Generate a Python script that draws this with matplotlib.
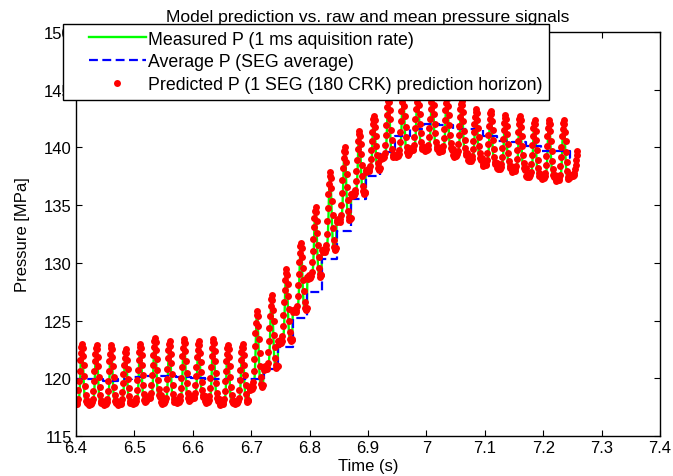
import numpy as np
import matplotlib.pyplot as plt
from matplotlib.lines import Line2D
from matplotlib.legend_handler import HandlerLine2D
from matplotlib.ticker import FuncFormatter, MultipleLocator

plt.rcParams['font.family'] = ['Liberation Sans', 'DejaVu Sans']

# one SEG = 180 CRK = 25 ms, pressure sampled every 1 ms
seg_first = 6.3963
seg_dt = 0.025
sample_dt = 0.001
samples_per_seg = 25
last_seg_samples = 13

# SEG average (blue steps)
seg_mean = [119.9, 119.9, 119.8, 119.9, 120.1, 120.2, 120.2, 120.1, 120.0, 119.9, 119.9, 119.9, 119.9,
            120.8, 122.7, 125.2, 127.5, 130.3, 132.8, 135.5, 137.5, 139.6, 141.0,
            141.6, 142.0, 141.9, 141.6, 141.6, 141.0, 140.6, 140.5, 140.1, 139.7, 139.7, 139.1]
# crest / trough of the pressure pulse in each SEG
seg_hi = [122.9, 122.8, 122.8, 122.4, 122.9, 123.4, 123.1, 123.3, 123.1, 123.3, 122.8, 122.9, 125.7,
          127.1, 129.3, 131.6, 134.7, 137.7, 139.9, 141.3, 142.6, 144.2,
          144.6, 144.6, 144.6, 144.5, 143.9, 143.2, 143.1, 142.7, 142.6, 142.3, 142.3, 142.3, 140.0]
seg_lo = [117.7, 117.7, 117.7, 117.7, 117.8, 118.2, 117.8, 117.9, 118.2, 117.9, 117.7, 117.8, 119.0,
          120.7, 123.0, 125.7, 128.6, 130.9, 133.5, 135.8, 137.9, 139.0,
          139.2, 139.7, 139.7, 139.6, 139.2, 138.8, 138.4, 138.1, 137.9, 137.4, 137.3, 137.1, 137.5]

# pulse shape inside one SEG (0 = trough, 1 = crest), measured and predicted
meas_shape = [0.05, 0.03, 0.02, 0.00, 0.02, 0.04, 0.03, 0.02, 0.05, 0.10, 0.22, 0.45, 0.75,
              0.95, 1.00, 0.88, 0.62, 0.38, 0.20, 0.10, 0.05, 0.03, 0.04, 0.06, 0.05]
pred_shape = [0.03, 0.00, 0.02, 0.05, 0.03, 0.01, 0.04, 0.10, 0.24, 0.40, 0.57, 0.74, 0.87,
              0.97, 1.02, 0.95, 0.82, 0.66, 0.48, 0.31, 0.16, 0.07, 0.03, 0.05, 0.06]

n_seg = len(seg_mean)
t_meas, p_meas, p_pred = [], [], []
for k in range(n_seg):
    n = samples_per_seg if k < n_seg - 1 else last_seg_samples
    t0 = seg_first + k * seg_dt
    amp = seg_hi[k] - seg_lo[k]
    for i in range(n):
        t_meas.append(t0 + i * sample_dt)
        p_meas.append(seg_lo[k] + amp * meas_shape[i])
        p_pred.append(seg_lo[k] + amp * pred_shape[i])

t_avg = [seg_first + k * seg_dt for k in range(n_seg)] + [t_meas[-1]]
p_avg = seg_mean + [seg_mean[-1]]


class MatlabLineHandler(HandlerLine2D):
    # line drawn in the right part of the handle box, like MATLAB legends
    def get_xdata(self, legend, xdescent, ydescent, width, height, fontsize):
        x0 = -xdescent + 0.25 * width
        x1 = -xdescent + width
        return [x0, x1], [0.5 * (x0 + x1)]


fig = plt.figure(figsize=(6.73, 4.77), dpi=100)
ax = fig.add_axes([0.1129, 0.0839, 0.8678, 0.8469])

ax.plot(t_meas, p_meas, color='#00ff00', lw=1.7, label='Measured P (1 ms aquisition rate)')
ax.plot(t_avg, p_avg, color='#0000ff', lw=1.6, linestyle=(0, (4, 2)), drawstyle='steps-post',
        label='Average P (SEG average)')
ax.plot(t_meas, p_pred, 'o', color='#ff0000', ms=5, mew=0,
        label='Predicted P (1 SEG (180 CRK) prediction horizon)')

ax.set_xlim(6.4, 7.4)
ax.set_ylim(115, 150)
ax.xaxis.set_major_locator(MultipleLocator(0.1))
ax.yaxis.set_major_locator(MultipleLocator(5))
ax.xaxis.set_major_formatter(FuncFormatter(lambda v, p: '%g' % round(v, 2)))
ax.tick_params(direction='in', top=True, right=True, length=4, width=0.8, labelsize=12, pad=3)
for s in ax.spines.values():
    s.set_linewidth(1.0)

ax.set_xlabel('Time (s)', fontsize=12, labelpad=2)
ax.set_ylabel('Pressure [MPa]', fontsize=12, labelpad=10)
ax.set_title('Model prediction vs. raw and mean pressure signals', fontsize=12.6, pad=8)

leg = ax.legend(loc='upper left', bbox_to_anchor=(63 / 673, 1 - 25 / 477),
                bbox_transform=fig.transFigure, fontsize=12.8, frameon=True, fancybox=False,
                framealpha=1, edgecolor='black', borderpad=0.37, labelspacing=0.32,
                handlelength=4.3, handletextpad=0.1, borderaxespad=0, numpoints=1,
                handler_map={Line2D: MatlabLineHandler()})
leg.get_frame().set_linewidth(1.0)

fig.savefig('out.png', dpi=100)
